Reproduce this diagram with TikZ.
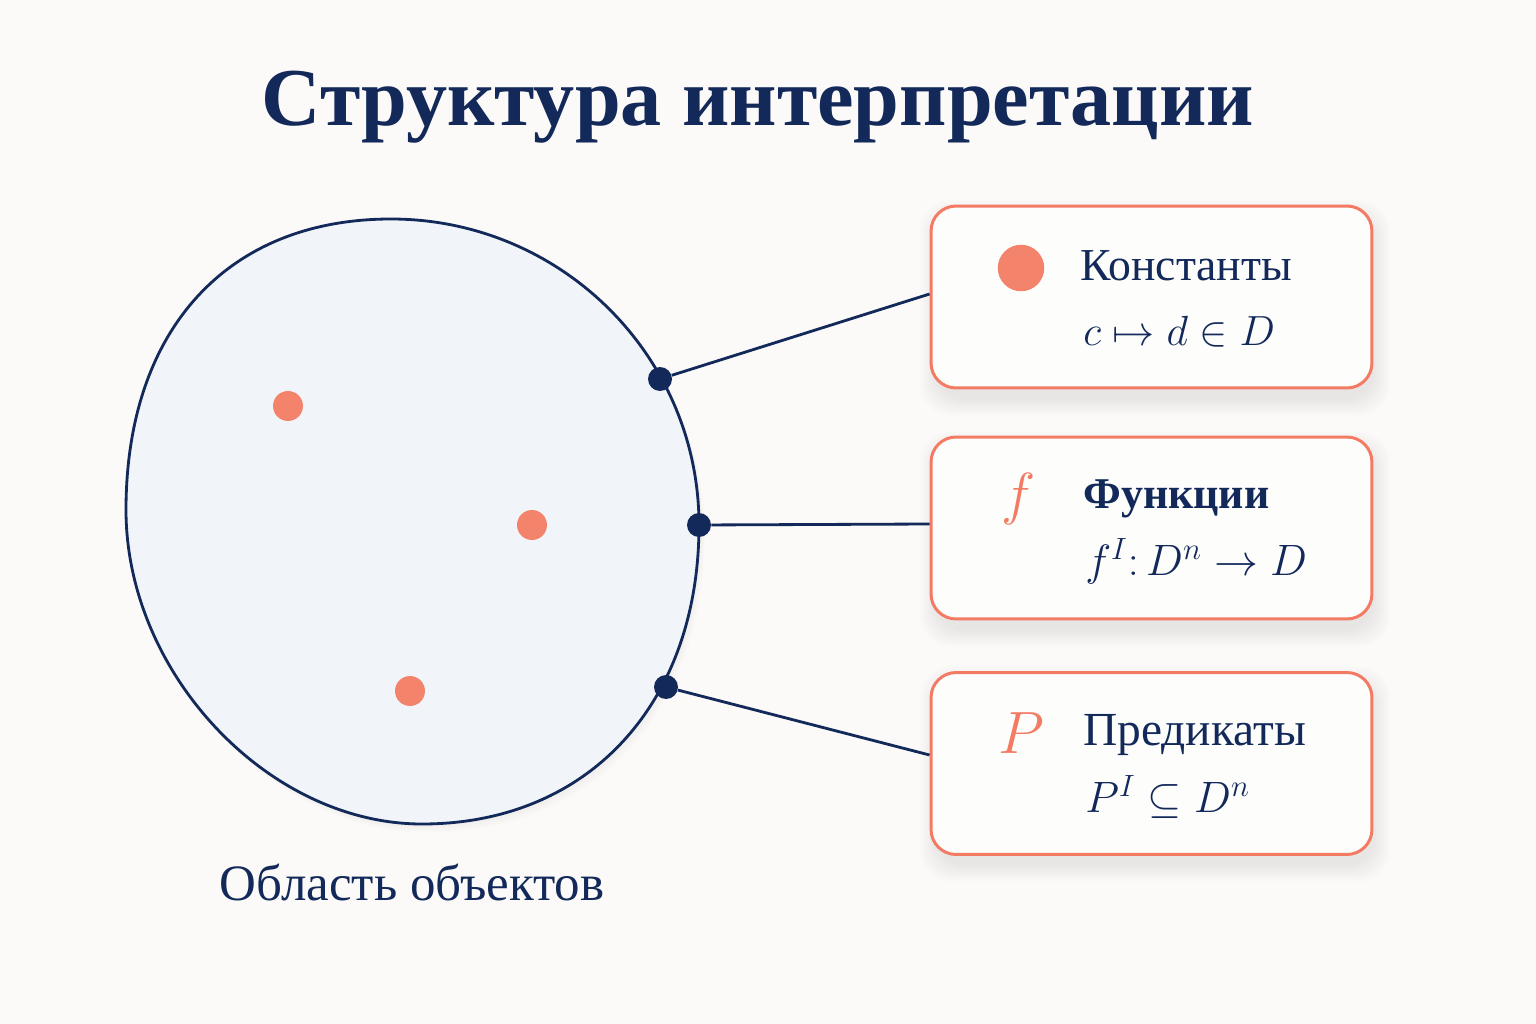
\RequirePackage{fix-cm}
\documentclass[tikz,border=0pt]{standalone}
\usepackage{fontspec}
\setmainfont{Liberation Serif}
\usetikzlibrary{calc}
\definecolor{navy}{HTML}{12295A}
\definecolor{coral}{HTML}{F47B63}
\definecolor{dotc}{HTML}{F4836B}
\definecolor{bgc}{HTML}{FBFAF8}
\definecolor{blobfill}{HTML}{F1F5FA}
\begin{document}
\begin{tikzpicture}[x=0.02cm,y=-0.02cm,
  box/.style={draw=coral, line width=1.7pt, fill=white!60!bgc, rounded corners=0.5cm,
     minimum width=8.82cm, minimum height=3.64cm, inner sep=0pt},
  shadowbox/.style={fill=black, opacity=0.009, rounded corners=0.6cm, draw=none,
     minimum width=8.82cm, minimum height=3.64cm, inner sep=0pt},
  pin/.style={circle, fill=navy, minimum size=0.48cm, inner sep=0pt},
  elem/.style={circle, fill=dotc, minimum size=0.6cm, inner sep=0pt},
  conn/.style={draw=navy, line width=1.6pt},
  lbl/.style={anchor=base west, text=navy, inner sep=0pt, font=\fontsize{26}{30}\selectfont},
  mth/.style={anchor=base west, text=navy, inner sep=0pt, font=\fontsize{25}{29}\selectfont},
  sym/.style={text=coral, inner sep=0pt, anchor=base}]
\fill[bgc] (0,0) rectangle (1536,1024);
\useasboundingbox (0,0) rectangle (1536,1024);

% title
\node[text=navy, font=\fontsize{46.8}{54}\selectfont\bfseries, anchor=base, inner sep=0pt] (title) at (758,126) {Структура интерпретации};

% domain blob (soft shadow first)
\foreach \i in {1,...,6} {
\fill[black, opacity=0.008, xshift=0.02cm*\i, yshift=-0.03cm*\i]
  (391,219) .. controls (561,219) and (699,356) .. (699,525)
  .. controls (699,704) and (588,824) .. (422,824)
  .. controls (268,824) and (126,673) .. (126,510)
  .. controls (126,330) and (227,219) .. (391,219) -- cycle;
}
\filldraw[fill=blobfill, draw=navy, line width=1.6pt]
  (391,219) .. controls (561,219) and (699,356) .. (699,525)
  .. controls (699,704) and (588,824) .. (422,824)
  .. controls (268,824) and (126,673) .. (126,510)
  .. controls (126,330) and (227,219) .. (391,219) -- cycle;

\node[elem] (o1) at (288,406) {};
\node[elem] (o2) at (532,525) {};
\node[elem] (o3) at (410,691) {};

\node[text=navy, font=\fontsize{29}{34}\selectfont, anchor=base, inner sep=0pt] (domlbl) at (412,900) {Область объектов};

% shadows
\foreach \i in {1,...,10} {
  \node[shadowbox, minimum width=8.7cm+0.07cm*\i, minimum height=3.6cm+0.07cm*\i] at (1155,308) {};
  \node[shadowbox, minimum width=8.7cm+0.07cm*\i, minimum height=3.6cm+0.07cm*\i] at (1155,539) {};
  \node[shadowbox, minimum width=8.7cm+0.07cm*\i, minimum height=3.6cm+0.07cm*\i] at (1155,774) {};
}

% boxes
\node[box] (b1) at (1151.5,297) {};
\node[box] (b2) at (1151.5,528) {};
\node[box] (b3) at (1151.5,763.5) {};

% pins and connectors
\node[pin] (p1) at (660,379) {};
\node[pin] (p2) at (699,525) {};
\node[pin] (p3) at (666,687) {};
\draw[conn] (p1) -- ([yshift=0.06cm]b1.west);
\draw[conn] (p2) -- ([yshift=0.08cm]b2.west);
\draw[conn] (p3) -- ([yshift=0.17cm]b3.west);

% box 1
\node[circle, fill=dotc, minimum size=0.93cm, inner sep=0pt] (c1) at (1021,268) {};
\node[lbl] (t1) at (1080,280) {Константы};
\node[mth, font=\fontsize{24}{28}\selectfont] (m1) at (1083,345) {$c \mapsto d \in D$};

% box 2
\node[sym, font=\fontsize{33}{38}\selectfont] (s2) at (1019,513) {$f$};
\node[lbl, font=\fontsize{25}{30}\selectfont\bfseries] (t2) at (1083,508) {Функции};
\node[mth] (m2) at (1085,575) {$f^{I}\colon D^{n} \to D$};

% box 3
\node[sym, font=\fontsize{34}{39}\selectfont] (s3) at (1021,753) {$P$};
\node[lbl, font=\fontsize{27}{31}\selectfont] (t3) at (1083,745) {Предикаты};
\node[mth] (m3) at (1085,812) {$P^{I} \subseteq D^{n}$};
\end{tikzpicture}
\end{document}
